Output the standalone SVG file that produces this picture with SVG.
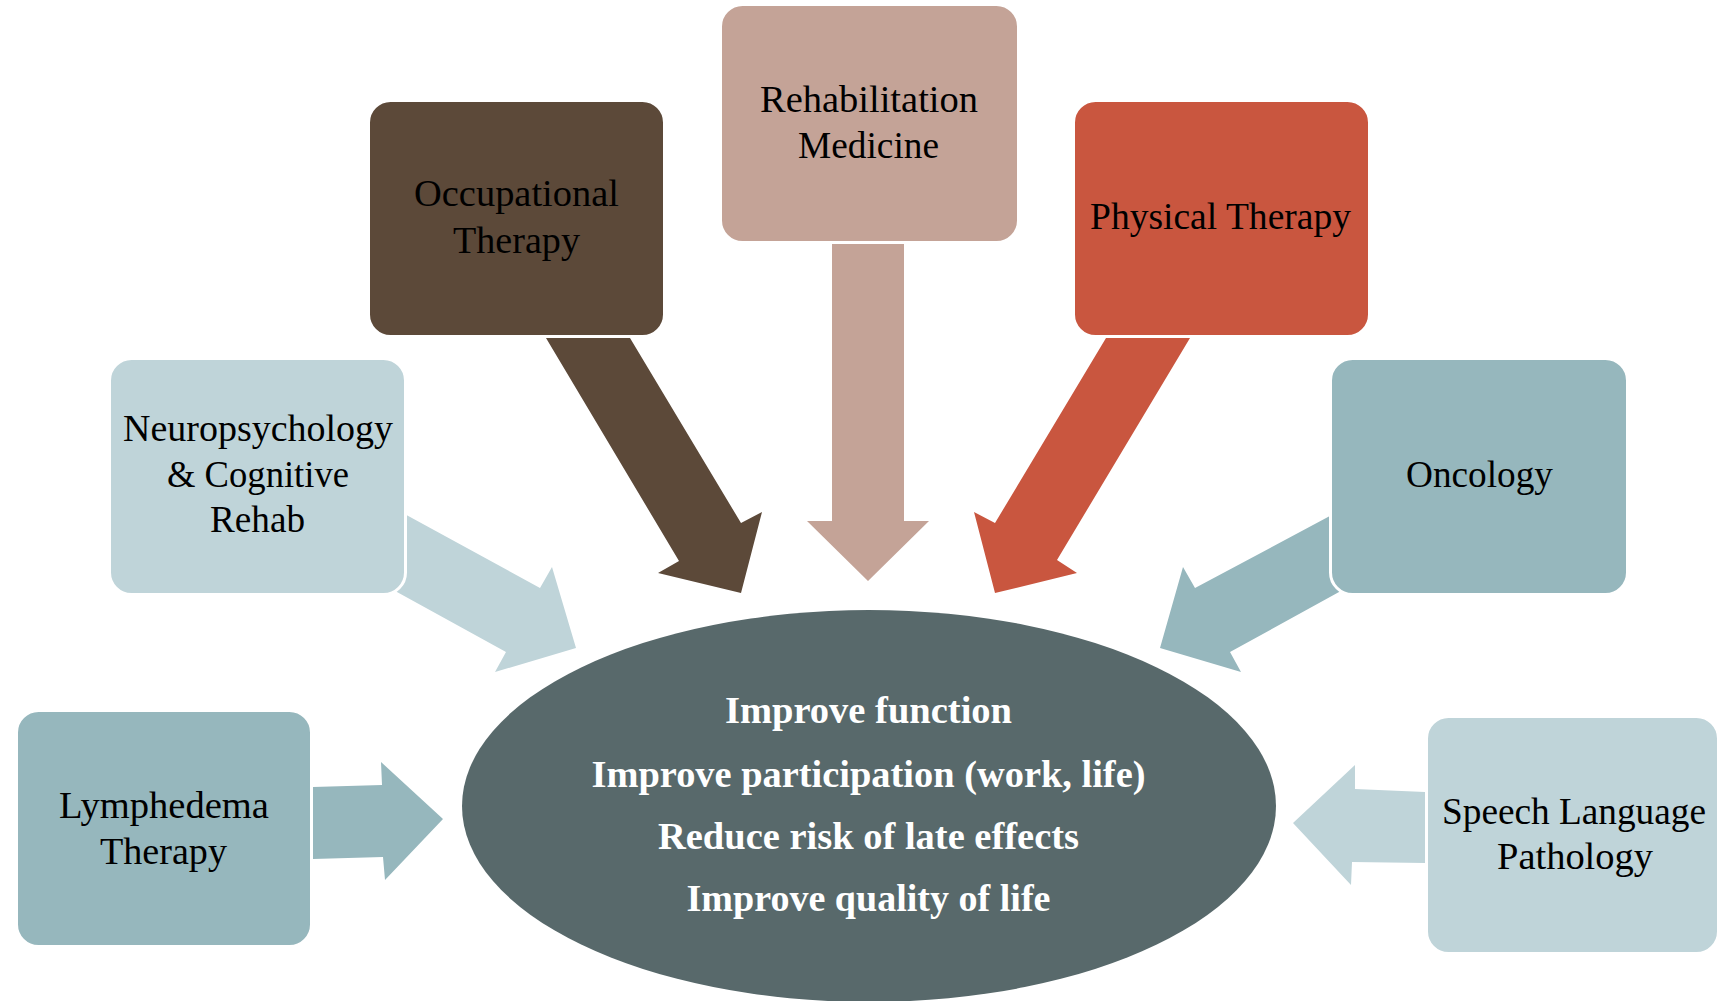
<svg xmlns="http://www.w3.org/2000/svg" width="1719" height="1001" viewBox="0 0 1719 1001">
  <style>
    .box { stroke: #ffffff; stroke-width: 3; }
    .lbl { font-family: "Liberation Serif", "DejaVu Serif", serif; font-size: 37px; fill: #000000; text-anchor: middle; }
    .goal { font-family: "Liberation Serif", "DejaVu Serif", serif; font-size: 37px; font-weight: bold; fill: #ffffff; text-anchor: middle; }
    .brown { fill: #5C4939; }
    .rose { fill: #C4A397; }
    .red { fill: #C9563F; }
    .light { fill: #BFD4D9; }
    .mid { fill: #96B7BD; }
  </style>
  <rect width="1719" height="1001" fill="#ffffff"/>

  <g id="connectors">
    <polygon class="rose" points="832,244 904,244 904,521 929,521 868,581 807,521 832,521"/>
    <polygon class="brown" points="546,338 630,338 741,523 762,512 741,593 658,573 679,561"/>
    <polygon class="red" points="1106,338 1190,338 1057,560 1077,573 995,593 974,512 995,523"/>
    <polygon class="light" points="368,494 540,588 552,567 576,648 495,672 506,652 357,570"/>
    <polygon class="mid" points="1371,494 1195,588 1183,567 1160,648 1241,672 1230,652 1379,570"/>
    <polygon class="mid" points="313,787 382,785 381,762 443,819 385,880 383,857 313,859"/>
    <polygon class="light" points="1425,792 1355,789 1355,765 1293,823 1351,885 1352,862 1425,863"/>
  </g>

  <g id="rehabilitation-medicine">
    <rect class="box rose" x="720.5" y="4.5" width="298" height="238" rx="22"/>
    <text class="lbl" x="869" y="111.5" textLength="218" lengthAdjust="spacingAndGlyphs">Rehabilitation</text>
    <text class="lbl" x="868.5" y="157.5" textLength="141" lengthAdjust="spacingAndGlyphs">Medicine</text>
  </g>

  <g id="occupational-therapy">
    <rect class="box brown" x="368.5" y="100.5" width="296" height="236" rx="22"/>
    <text class="lbl" x="516.5" y="206" textLength="205" lengthAdjust="spacingAndGlyphs">Occupational</text>
    <text class="lbl" x="516.5" y="252.5" textLength="127" lengthAdjust="spacingAndGlyphs">Therapy</text>
  </g>

  <g id="physical-therapy">
    <rect class="box red" x="1073.5" y="100.5" width="296" height="236" rx="22"/>
    <text class="lbl" x="1220.5" y="228.5" textLength="261" lengthAdjust="spacingAndGlyphs">Physical Therapy</text>
  </g>

  <g id="neuropsychology">
    <rect class="box light" x="109.5" y="358.5" width="296" height="236" rx="22"/>
    <text class="lbl" x="258" y="440.5" textLength="270" lengthAdjust="spacingAndGlyphs">Neuropsychology</text>
    <text class="lbl" x="258" y="486.5" textLength="182" lengthAdjust="spacingAndGlyphs">&amp; Cognitive</text>
    <text class="lbl" x="257.5" y="531.5" textLength="95" lengthAdjust="spacingAndGlyphs">Rehab</text>
  </g>

  <g id="oncology">
    <rect class="box mid" x="1330.5" y="358.5" width="297" height="236" rx="22"/>
    <text class="lbl" x="1479.5" y="486.5" textLength="147" lengthAdjust="spacingAndGlyphs">Oncology</text>
  </g>

  <g id="lymphedema-therapy">
    <rect class="box mid" x="16.5" y="710.5" width="295" height="236" rx="22"/>
    <text class="lbl" x="164" y="817.5" textLength="210" lengthAdjust="spacingAndGlyphs">Lymphedema</text>
    <text class="lbl" x="163.5" y="863.5" textLength="127" lengthAdjust="spacingAndGlyphs">Therapy</text>
  </g>

  <g id="speech-language-pathology">
    <rect class="box light" x="1426.5" y="716.5" width="292" height="237" rx="22"/>
    <text class="lbl" x="1574" y="823.5" textLength="264" lengthAdjust="spacingAndGlyphs">Speech Language</text>
    <text class="lbl" x="1575" y="868.5" textLength="156" lengthAdjust="spacingAndGlyphs">Pathology</text>
  </g>

  <g id="goals">
    <ellipse cx="869" cy="806" rx="407" ry="196" fill="#58696B"/>
    <text class="goal" x="868.5" y="723" textLength="287" lengthAdjust="spacingAndGlyphs">Improve function</text>
    <text class="goal" x="868.5" y="787" textLength="554" lengthAdjust="spacingAndGlyphs">Improve participation (work, life)</text>
    <text class="goal" x="868.5" y="849" textLength="421" lengthAdjust="spacingAndGlyphs">Reduce risk of late effects</text>
    <text class="goal" x="868.5" y="911" textLength="364" lengthAdjust="spacingAndGlyphs">Improve quality of life</text>
  </g>
</svg>
